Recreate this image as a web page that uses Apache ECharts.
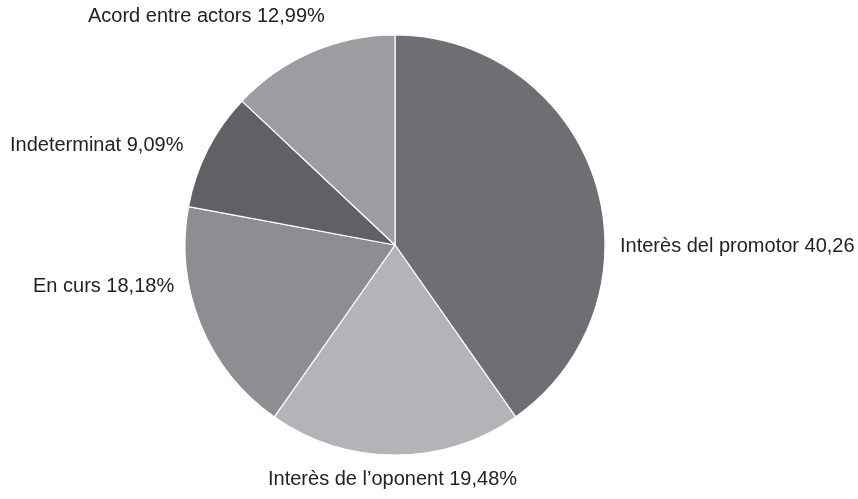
<!DOCTYPE html>
<html>
<head>
<meta charset="utf-8">
<script src="https://cdn.jsdelivr.net/npm/echarts@6/dist/echarts.min.js"></script>
<style>html,body{margin:0;padding:0;background:#fff}#c{width:858px;height:499px}</style>
</head>
<body>
<div id="c"></div>
<script>
const categories = ["Interès del promotor", "Interès de l’oponent", "En curs", "Indeterminat", "Acord entre actors"];
const values = [40.26, 19.48, 18.18, 9.09, 12.99];
const labelTexts = ["Interès del promotor 40,26", "Interès de l’oponent 19,48%", "En curs 18,18%", "Indeterminat 9,09%", "Acord entre actors 12,99%"];
const colors = ["#6e6f72", "#b3b4b7", "#8d8e91", "#606164", "#9c9da0"];
const labelPos = [[620, 246], [268, 479], [33, 286], [10, 145], [88, 16]];

const chart = echarts.init(document.getElementById('c'), null, {renderer: 'canvas'});
chart.setOption({
  animation: false,
  backgroundColor: '#fff',
  series: [{
    type: 'pie',
    center: [395, 245],
    radius: [0, 210],
    startAngle: 90,
    clockwise: true,
    avoidLabelOverlap: false,
    data: categories.map((c, i) => ({
      name: c, value: values[i],
      itemStyle: {color: colors[i]},
      label: {formatter: labelTexts[i]}
    })),
    itemStyle: {borderColor: '#ffffff', borderWidth: 1.2},
    label: {
      show: true,
      position: 'outside',
      color: '#222222',
      fontFamily: 'Liberation Sans, Arial, sans-serif',
      fontSize: 20,
      overflow: 'none',
      width: 600
    },
    labelLine: {show: false},
    labelLayout: function (p) {
      const pos = labelPos[p.dataIndex];
      return {x: pos[0], y: pos[1], align: 'left', verticalAlign: 'middle', hideOverlap: false};
    }
  }]
});
</script>
</body>
</html>
